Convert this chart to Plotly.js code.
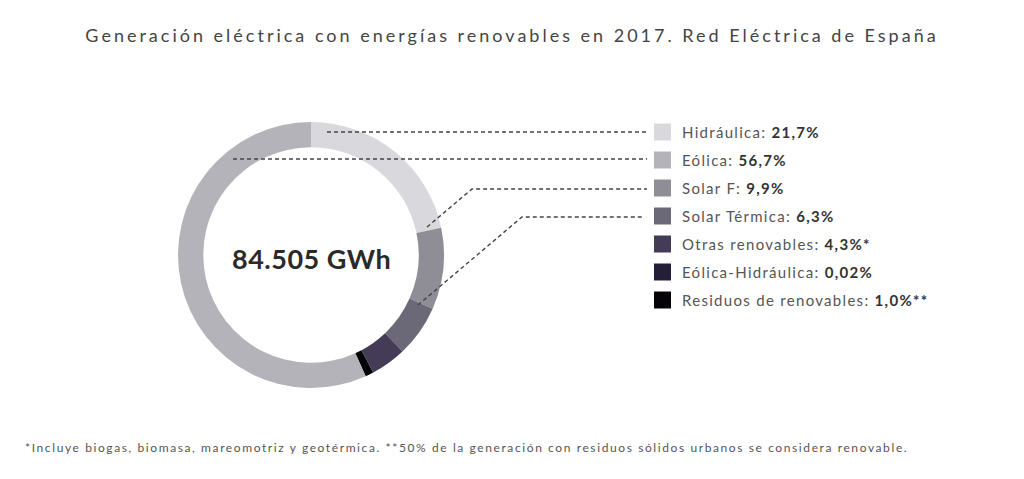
<!DOCTYPE html>
<html>
<head>
<meta charset="utf-8">
<script src="https://cdn.plot.ly/plotly-3.0.1.min.js"></script>
<style>
  html, body { margin: 0; padding: 0; background: #fff; }
  #chart { width: 1024px; height: 479px; }
  .gtitle { letter-spacing: 3.0px; }
</style>
</head>
<body>
<div id="chart"></div>
<script>
// ---- Data (legend order) ----
const categories = ["Hidráulica", "Eólica", "Solar F", "Solar Térmica", "Otras renovables", "Eólica-Hidráulica", "Residuos de renovables"];
const shares = [21.7, 56.7, 9.9, 6.3, 4.3, 0.02, 1.0];
const shareLabels = ["21,7%", "56,7%", "9,9%", "6,3%", "4,3%", "0,02%", "1,0%"];
const labelSuffix = ["", "", "", "", "*", "", "**"];
const colors = ["#d9d8dc", "#b4b3b9", "#8f8d96", "#6b6877", "#443c56", "#241f37", "#050308"];
// order of slices clockwise from 12 o'clock
const ringOrder = [0, 2, 3, 4, 5, 6, 1];
const totalText = "84.505 GWh";
const titleText = "Generación eléctrica con energías renovables en 2017. Red Eléctrica de España";
const footnote = "*Incluye biogas, biomasa, mareomotriz y geotérmica. **50% de la generación con residuos sólidos urbanos se considera renovable.";

const W = 1024, H = 479;
const px = x => x / W;
const py = y => 1 - y / H;
const spaced = (t, s) => "<span style='letter-spacing:" + s + "px'>" + t + "</span>";

const cx = 311, cy = 255, R = 133;

const trace = {
  type: "pie",
  labels: ringOrder.map(i => categories[i]),
  values: ringOrder.map(i => shares[i]),
  marker: { colors: ringOrder.map(i => colors[i]), line: { width: 0 } },
  hole: 0.81,
  sort: false,
  direction: "clockwise",
  rotation: 0,
  textinfo: "none",
  hoverinfo: "label+percent",
  showlegend: false,
  domain: { x: [px(cx - R), px(cx + R)], y: [py(cy + R), py(cy - R)] }
};

const annotations = [];
const shapes = [];

// center total
annotations.push({
  text: "<b>" + spaced(totalText, 0.5) + "</b>", x: px(cx), y: py(cy + 3), xref: "paper", yref: "paper",
  xanchor: "center", yanchor: "middle", showarrow: false,
  font: { family: "Lato, 'Open Sans', sans-serif", size: 27, color: "#2a2a2a" }
});

// footnote
annotations.push({
  text: spaced(footnote, 1.6), x: px(23), y: py(447), xref: "paper", yref: "paper",
  xanchor: "left", yanchor: "middle", showarrow: false,
  font: { family: "Lato, 'Open Sans', sans-serif", size: 12, color: "#555" }
});

// legend
const legX = 654, legTextX = 680, legY0 = 132, legStep = 28, sq = 17;
categories.forEach((c, i) => {
  const yc = legY0 + i * legStep;
  shapes.push({
    type: "rect", xref: "paper", yref: "paper",
    x0: px(legX), x1: px(legX + sq), y0: py(yc + sq / 2), y1: py(yc - sq / 2),
    fillcolor: colors[i], line: { width: 0 }
  });
  annotations.push({
    text: spaced(c + ": ", 1.3) + "<b>" + "<span style='letter-spacing:1.3px;color:#333'>" + shareLabels[i] + labelSuffix[i] + "</span></b>",
    x: px(legTextX), y: py(yc), xref: "paper", yref: "paper",
    xanchor: "left", yanchor: "middle", showarrow: false,
    font: { family: "Lato, 'Open Sans', sans-serif", size: 15, color: "#555" }
  });
});

// dashed leader lines
const lineStyle = { color: "#444", width: 1.4, dash: "4px,3px" };
const leaders = [
  [[327, 132], [647, 132]],
  [[233, 159], [647, 159]],
  [[427, 227], [472, 189], [647, 189]],
  [[418, 305], [522, 217], [644, 217]]
];
leaders.forEach(pts => {
  const d = pts.map((p, k) => (k === 0 ? "M" : "L") + px(p[0]) + "," + py(p[1])).join(" ");
  shapes.push({ type: "path", xref: "paper", yref: "paper", path: d, line: lineStyle });
});

const layout = {
  width: W, height: H,
  margin: { l: 0, r: 0, t: 0, b: 0 },
  paper_bgcolor: "#fff",
  plot_bgcolor: "#fff",
  title: {
    text: titleText, x: 0.5, xanchor: "center", y: py(36), yanchor: "middle",
    xref: "paper", yref: "paper",
    font: { family: "Lato, 'Open Sans', sans-serif", size: 18, color: "#444" }
  },
  showlegend: false,
  annotations: annotations,
  shapes: shapes
};

Plotly.newPlot("chart", [trace], layout, { displayModeBar: false, staticPlot: true });
</script>
</body>
</html>
